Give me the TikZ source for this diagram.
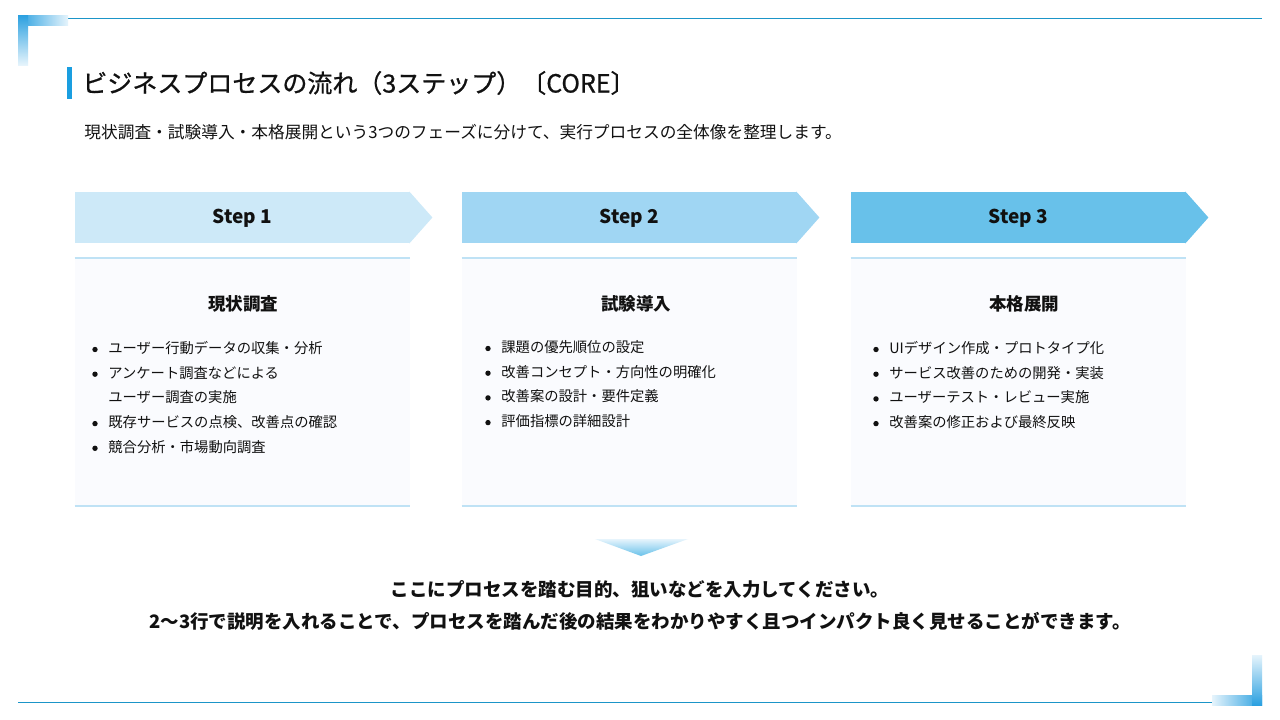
\documentclass[tikz,border=0pt]{standalone}
\usepackage{fontspec}
\setmainfont{Noto Sans CJK JP}
\newfontfamily\headfont{Noto Sans CJK JP}[FakeBold=0.8]
\usetikzlibrary{positioning}

\definecolor{linecol}{HTML}{1B95C8}
\definecolor{cornercol}{HTML}{2AA0E0}
\definecolor{cornerpale}{HTML}{E6F4FC}
\definecolor{titlebar}{HTML}{1A9EE0}
\definecolor{stepa}{HTML}{CDE9F8}
\definecolor{stepb}{HTML}{A0D6F3}
\definecolor{stepc}{HTML}{68C1EA}
\definecolor{rulecol}{HTML}{BFE2F5}
\definecolor{cardbg}{HTML}{FAFBFE}
\definecolor{inkcol}{HTML}{111111}

\begin{document}
\begin{tikzpicture}[x=1pt, y=-1pt, thick]

	\tikzstyle{stephead}=[rectangle, inner sep=0pt, text=inkcol, minimum width=335pt, minimum height=51pt, text height=1.1em, text depth=0pt, font=\fontsize{19}{19}\selectfont\bfseries]
	\tikzstyle{card}=[rectangle, inner sep=0pt, fill=cardbg, minimum width=335pt, minimum height=248pt]
	\tikzstyle{cardtitle}=[text=inkcol, font=\fontsize{17.5}{17.5}\selectfont\bfseries]
	\tikzstyle{item}=[anchor=west, inner sep=0pt, text=inkcol, text height=0.88em, text depth=0.12em, font=\fontsize{14.3}{14.3}\selectfont]
	\tikzstyle{dot}=[fill=inkcol]
	\tikzstyle{rule}=[line width=2pt, draw=rulecol]
	\tikzstyle{note}=[text=inkcol, font=\fontsize{18.5}{18.5}\selectfont\bfseries]

	\useasboundingbox[fill=white] (0,0) rectangle (1280,720);

	% frame lines and corners
	\draw[line width=1pt, linecol] (68,18) -- (1262,18);
	\draw[line width=1pt, linecol] (18,702) -- (1212,702);
	\shade[left color=cornercol, right color=cornerpale] (18,15) rectangle (68,25);
	\shade[top color=cornercol, bottom color=cornerpale] (18,15) rectangle (28,65);
	\shade[left color=cornerpale, right color=cornercol] (1212,695) rectangle (1262,705);
	\shade[top color=cornerpale, bottom color=cornercol] (1252,655) rectangle (1262,705);

	% heading
	\fill[titlebar] (67,67) rectangle (72,99);
	\node[anchor=west, inner sep=0pt, text=inkcol, font=\fontsize{25}{25}\selectfont\headfont] (title) at (82,83) {ビジネスプロセスの流れ（3ステップ）〔CORE〕};
	\node[anchor=west, inner sep=0pt, text=inkcol, font=\fontsize{16.7}{16.7}\selectfont] (lead) at (84,132) {現状調査・試験導入・本格展開という3つのフェーズに分けて、実行プロセスの全体像を整理します。};

	% steps
	\node[card] (c1) at (242.5,382) {};
	\node[card] (c2) at (629.5,382) {};
	\node[card] (c3) at (1018.5,382) {};
	\foreach \c in {c1,c2,c3} {
		\draw[rule] (\c.north west) -- (\c.north east);
		\draw[rule] (\c.south west) -- (\c.south east);
	}

	\node[stephead, fill=stepa] (s1) at (242.5,217.5) {Step 1};
	\node[stephead, fill=stepb] (s2) at (629.5,217.5) {Step 2};
	\node[stephead, fill=stepc] (s3) at (1018.5,217.5) {Step 3};
	\fill[stepa] ([xshift=-1pt]s1.north east) -- ([xshift=22pt]s1.east) -- ([xshift=-1pt]s1.south east) -- cycle;
	\fill[stepb] ([xshift=-1pt]s2.north east) -- ([xshift=22pt]s2.east) -- ([xshift=-1pt]s2.south east) -- cycle;
	\fill[stepc] ([xshift=-1pt]s3.north east) -- ([xshift=22pt]s3.east) -- ([xshift=-1pt]s3.south east) -- cycle;

	\node[cardtitle] (t1) at (243,303.5) {現状調査};
	\node[cardtitle] (t2) at (636,303.5) {試験導入};
	\node[cardtitle] (t3) at (1024,303.5) {本格展開};

	\foreach \t [count=\i] in {ユーザー行動データの収集・分析, アンケート調査などによる, ユーザー調査の実施, 既存サービスの点検、改善点の確認, 競合分析・市場動向調査}
		\node[item] (a\i) at (108,349.5+24.7*\i-24.7) {\t};
	\foreach \t [count=\i] in {課題の優先順位の設定, 改善コンセプト・方向性の明確化, 改善案の設計・要件定義, 評価指標の詳細設計}
		\node[item] (b\i) at (501,348.5+24.7*\i-24.7) {\t};
	\foreach \t [count=\i] in {UIデザイン作成・プロトタイプ化, サービス改善のための開発・実装, ユーザーテスト・レビュー実施, 改善案の修正および最終反映}
		\node[item] (d\i) at (889,349.5+24.7*\i-24.7) {\t};
	\foreach \n in {a1,a2,a4,a5,b1,b2,b3,b4,d1,d2,d3,d4}
		\fill[dot] ([xshift=-13pt]\n.west) circle (2.7pt);

	% result
	\shade[top color=cornerpale, bottom color=stepc] (595,539) -- (688,539) -- (641,556) -- cycle;
	\node[note] (n1) at (640,589) {ここにプロセスを踏む目的、狙いなどを入力してください。};
	\node[note] (n2) at (640,621) {2～3行で説明を入れることで、プロセスを踏んだ後の結果をわかりやすく且つインパクト良く見せることができます。};

\end{tikzpicture}
\end{document}
